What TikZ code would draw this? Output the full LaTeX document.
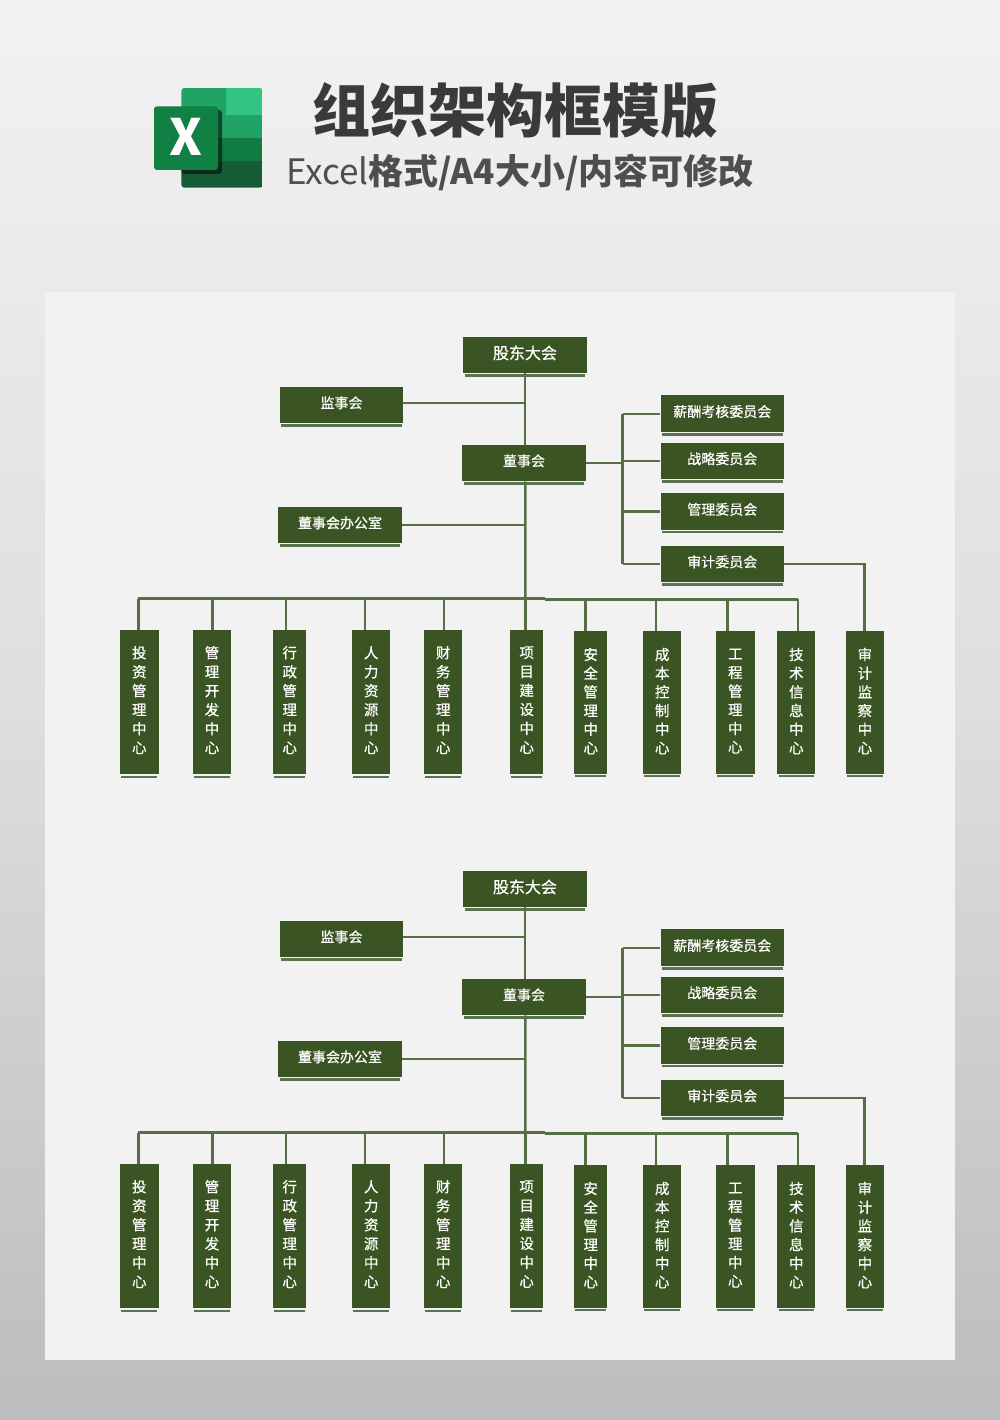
\documentclass[tikz,border=0pt]{standalone}
\usepackage{fontspec}
\setmainfont{Noto Sans CJK SC}
\newfontfamily\medfont[FakeBold=0.5]{Noto Sans CJK SC}
\usetikzlibrary{arrows.meta}
\definecolor{boxgreen}{HTML}{3A5423}
\definecolor{linegreen}{HTML}{566F46}
\definecolor{shadowgreen}{HTML}{5B7350}
\definecolor{paper}{HTML}{F2F2F2}
\definecolor{inkgray}{HTML}{3A3A3A}
\definecolor{sheetmid}{HTML}{21A366}
\definecolor{sheetlight}{HTML}{33C481}
\definecolor{sheetdark}{HTML}{107C41}
\definecolor{sheetdeep}{HTML}{185C37}
\definecolor{sheetfront}{HTML}{118044}

\begin{document}
\begin{tikzpicture}[
    x=1pt, y=-1pt,
    link/.style={draw=linegreen, line width=2.4pt},
    box/.style={rectangle, fill=boxgreen, text=white, inner sep=0pt, minimum height=36.5pt, minimum width=123.5pt, align=center, text depth=5.5pt, font=\medfont\fontsize{14}{17}\selectfont},
    topbox/.style={box, font=\medfont\fontsize{16}{19}\selectfont},
    leafl/.style={box, minimum height=144pt, font=\medfont\fontsize{14.5}{19}\selectfont},
    leafr/.style={box, minimum height=142.7pt, text depth=3.5pt, font=\medfont\fontsize{14.5}{18.7}\selectfont},
    under/.style={fill=shadowgreen}
  ]

  % Page
  \useasboundingbox (0,0) rectangle (1000,1420);
  \shade[top color=paper, bottom color=black!26, middle color=black!13] (0,0) rectangle (1000,1420);
  \fill[paper] (45,292) rectangle (955,1360);

  % Logo
  \begin{scope}
    \clip[rounded corners=3pt] (181.4,88) rectangle (262.7,187.7);
    \fill[sheetmid] (181.4,88) rectangle (226,115);
    \fill[sheetlight] (226,88) rectangle (262.7,115);
    \fill[sheetmid] (181.4,115) rectangle (262.7,137.7);
    \fill[sheetdark] (181.4,137.7) rectangle (262.7,160.7);
    \fill[sheetdeep] (181.4,160.7) rectangle (262.7,187.7);
  \end{scope}
  \fill[rounded corners=3pt, fill=black, opacity=.55] (181.4,110) rectangle (222,174);
  \fill[rounded corners=3pt, sheetfront] (154,106.3) rectangle (218,170);
  \node[text=white, font=\fontsize{50}{50}\selectfont\bfseries] (logoX) at (186,137) {X};

  % Title
  \node[text=inkgray, font=\fontsize{58}{60}\selectfont\bfseries] (title) at (515,111) {组织架构框模版};
  \node[text=inkgray!90, font=\fontsize{35}{38}\selectfont] (subtitle) at (520,172.5) {Excel{\bfseries 格式/A4大小/内容可修改}};

  % Both charts
  \foreach \c/\oy in {a/0,b/534}{
  \begin{scope}[shift={(0,\oy)}]

    % Nodes
    \node[topbox] (\c top) at (525,355) {股东大会};
    \node[box] (\c sup) at (341.5,405) {监事会};
    \node[box] (\c chair) at (524,463) {董事会};
    \node[box] (\c office) at (340,525) {董事会办公室};
    \node[box] (\c pay) at (722.3,413.7) {薪酬考核委员会};
    \node[box] (\c plan) at (722.3,460.9) {战略委员会};
    \node[box] (\c mgmt) at (722.3,511.5) {管理委员会};
    \node[box] (\c audit) at (722.3,564) {审计委员会};

    \foreach \n/\xa/\w/\drop/\s/\txt in {
      1/139.3/38.6/138.3/leafl/{投\\资\\管\\理\\中\\心},
      2/212/38.6/212.3/leafl/{管\\理\\开\\发\\中\\心},
      3/289.7/33.3/285.7/leafl/{行\\政\\管\\理\\中\\心},
      4/371.2/38.3/365/leafl/{人\\力\\资\\源\\中\\心},
      5/443.2/38.3/444/leafl/{财\\务\\管\\理\\中\\心},
      6/526.7/33.3/525.3/leafl/{项\\目\\建\\设\\中\\心},
      7/590.7/33.3/585.3/leafr/{安\\全\\管\\理\\中\\心},
      8/662.2/38.3/656/leafr/{成\\本\\控\\制\\中\\心},
      9/735.3/38.7/727.3/leafr/{工\\程\\管\\理\\中\\心},
      10/796.3/38/797.7/leafr/{技\\术\\信\\息\\中\\心},
      11/864.9/38.3/864.3/leafr/{审\\计\\监\\察\\中\\心}}{
      \node[\s, minimum width=\w pt] (\c leaf\n) at (\xa,702.4) {\txt};
      \fill[under] ([xshift=1.5pt,yshift=-1pt]\c leaf\n.south west) rectangle ([xshift=-1.5pt,yshift=-3.5pt]\c leaf\n.south east);
      \coordinate (\c drop\n) at (\drop,599);
      \draw[link] (\c drop\n) -- (\c drop\n |- \c leaf\n.north);
    }

    % Shadow strips
    \foreach \n in {top,sup,chair,office,pay,plan,mgmt,audit}{
      \fill[under] ([xshift=1.5pt,yshift=-1pt]\c\n.south west) rectangle ([xshift=-1.5pt,yshift=-3.5pt]\c\n.south east);
    }

    % Edges
    \coordinate (\c spine) at (622.6,463);
    \coordinate (\c mid) at (545,598.3);
    \draw[link] (\c top.south) -- (\c top.south |- \c chair.north);
    \draw[link] ([xshift=1pt,yshift=-4pt]\c chair.south) -- (\c chair.south -| \c drop6) -- (\c drop6 |- \c leaf6.north);
    \draw[link] ([yshift=2pt]\c sup.east) -- ([yshift=2pt]\c sup.east -| \c top.south);
    \draw[link] (\c office.east) -- (\c office.east -| \c top.south);
    \draw[link] (\c chair.east) -- (\c spine);
    \draw[link] (\c pay.west -| \c spine) -- (\c audit.west -| \c spine);
    \foreach \n in {pay,plan,mgmt,audit}{
      \draw[link] (\c\n.west -| \c spine) -- (\c\n.west);
    }
    \draw[link] (\c drop1 |- \c mid) -- (\c mid);
    \draw[link] ([yshift=-1pt]\c mid) -- ([yshift=-1pt]\c mid -| \c drop10);
    \draw[link] (\c audit.east) -| (\c leaf11.north -| \c drop11);

  \end{scope}
  }

\end{tikzpicture}
\end{document}
